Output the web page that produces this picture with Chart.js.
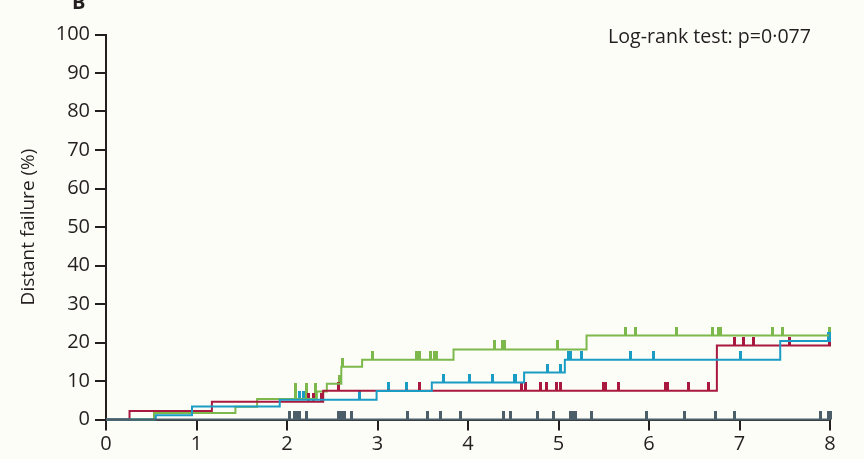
<!DOCTYPE html>
<html>
<head>
<meta charset="utf-8">
<script src="https://cdn.jsdelivr.net/npm/chart.js@4/dist/chart.umd.min.js"></script>
<style>
  html, body { margin: 0; background: #fdfdf7; }
  #wrap { width: 864px; height: 459px; }
</style>
</head>
<body>
<div id="wrap"><canvas id="kmChart"></canvas></div>
<script>
// step curves: time (years) and cumulative distant failure (%)
const redTimes = [0, 0.26, 1.17, 2.40, 6.75, 8.0];
const redValues = [0, 2.2, 4.6, 7.5, 19.2, 21.3];
const blueTimes = [0, 0.55, 0.95, 1.92, 2.99, 3.60, 4.62, 5.07, 7.45, 8.0];
const blueValues = [0, 1.1, 3.4, 5.1, 7.4, 9.6, 12.2, 15.5, 20.4, 22.0];
const greenTimes = [0, 0.53, 1.43, 1.67, 2.33, 2.44, 2.60, 2.83, 3.84, 5.31, 8.0];
const greenValues = [0, 1.7, 3.3, 5.3, 7.3, 9.3, 13.7, 15.5, 18.2, 21.8, 21.8];
const greyTimes = [0, 8.0];
const greyValues = [0, 0];

// censored observations
const redCensor = [2.24, 2.29, 2.38, 2.57, 3.32, 3.46, 4.59, 4.64, 4.80, 4.87, 4.98, 5.02,
  5.50, 5.52, 5.66, 6.18, 6.20, 6.44, 6.66, 6.94, 7.04, 7.16, 7.55, 7.99];
const blueCensor = [2.14, 2.18, 2.80, 3.12, 3.32, 3.73, 4.02, 4.27, 4.51, 4.53, 4.88, 5.02,
  5.11, 5.13, 5.25, 5.80, 6.05, 7.01, 7.98, 7.99];
const greenCensor = [2.58, 2.61, 2.94, 3.43, 3.46, 3.59, 3.63, 3.65, 4.29,
  4.38, 4.40, 4.99, 5.74, 5.85, 6.30, 6.70, 6.77, 6.79, 7.36, 7.48, 7.99];
// several censored at the same time: drawn as a taller stacked tick
const greenCensorStacked = [2.09, 2.22, 2.32];
const greyCensor = [2.03, 2.08, 2.11, 2.14, 2.21, 2.57, 2.60, 2.64, 2.71, 3.33, 3.55, 3.70,
  3.92, 4.39, 4.47, 4.77, 4.95, 5.13, 5.16, 5.19, 5.36, 5.97, 6.39, 6.73, 6.94, 7.90, 7.98, 8.0];

const xMin = 0, xMax = 8, xStep = 1;
const yMin = 0, yMax = 100, yStep = 10;

const RED = "#a8183f";
const BLUE = "#1a9cc4";
const GREEN = "#7cb84b";
const GREY = "#4c5f68";
const INK = "#231f20";
const FONT = "'Open Sans', sans-serif";

function toPoints(ts, vs) {
    return ts.map((t, i) => ({ x: t, y: vs[i] }));
}

function stepAt(ts, vs, t) {
    let v = vs[0];
    for (let i = 0; i < ts.length; i++) {
        if (ts[i] <= t) v = vs[i];
    }
    return v;
}

// small vertical tick used as point marker (drawn centred, so only top half is inked)
function tickMark(color, w, h) {
    const c = document.createElement("canvas");
    c.width = w;
    c.height = h * 2;
    const g = c.getContext("2d");
    g.fillStyle = color;
    g.fillRect(0, 0, w, h);
    return c;
}

function curve(ts, vs, color) {
    return {
        data: toPoints(ts, vs),
        showLine: true,
        stepped: "before",
        borderColor: color,
        borderWidth: 2,
        pointRadius: 0,
        clip: false,
    };
}

function censor(list, ts, vs, color, w, h = 9) {
    return {
        data: list.map((t) => ({ x: t, y: stepAt(ts, vs, t) })),
        showLine: false,
        pointStyle: tickMark(color, w, h),
        pointRadius: 5,
        clip: false,
    };
}

const decor = {
    id: "decor",
    beforeDraw(chart) {
        const ctx = chart.ctx;
        ctx.save();
        ctx.fillStyle = "#fdfdf7";
        ctx.fillRect(0, 0, chart.width, chart.height);
        ctx.restore();
    },
    afterDraw(chart) {
        const ctx = chart.ctx;
        ctx.save();
        ctx.fillStyle = INK;
        ctx.font = "19.6px " + FONT;
        ctx.textAlign = "right";
        ctx.textBaseline = "alphabetic";
        ctx.fillText("Log-rank test: p=0·077", 811, 43);
        ctx.font = "bold 20px " + FONT;
        ctx.textAlign = "left";
        ctx.fillText("B", 72, 9);
        ctx.restore();
    },
};

new Chart(document.getElementById("kmChart"), {
    type: "scatter",
    data: {
        datasets: [
            curve(greyTimes, greyValues, GREY),
            censor(greyCensor, greyTimes, greyValues, GREY, 3),
            curve(blueTimes, blueValues, BLUE),
            curve(redTimes, redValues, RED),
            curve(greenTimes, greenValues, GREEN),
            censor(blueCensor, blueTimes, blueValues, BLUE, 3),
            censor(redCensor, redTimes, redValues, RED, 3),
            censor(greenCensor, greenTimes, greenValues, GREEN, 3),
            censor(greenCensorStacked, greenTimes, greenValues, GREEN, 3, 16),
        ],
    },
    options: {
        responsive: true,
        maintainAspectRatio: false,
        animation: false,
        events: [],
        layout: { padding: { top: 34.5, right: 34, left: 0, bottom: 0 } },
        plugins: { legend: { display: false }, tooltip: { enabled: false } },
        scales: {
            x: {
                type: "linear",
                min: xMin,
                max: xMax,
                afterFit: (s) => { s.height = 39.5; },
                ticks: { stepSize: xStep, color: INK, padding: 2, font: { family: FONT, size: 20 } },
                grid: { drawOnChartArea: false, drawTicks: true, tickLength: 11, color: INK, lineWidth: 2 },
                border: { display: true, color: INK, width: 2 },
            },
            y: {
                min: yMin,
                max: yMax,
                afterFit: (s) => { s.width = 106; },
                ticks: { stepSize: yStep, color: INK, padding: 5, font: { family: FONT, size: 20 } },
                grid: { drawOnChartArea: false, drawTicks: true, tickLength: 11, color: INK, lineWidth: 2 },
                border: { display: true, color: INK, width: 2 },
                title: {
                    display: true,
                    text: "Distant failure (%)",
                    color: INK,
                    padding: { top: 17, bottom: 0 },
                    font: { family: FONT, size: 19 },
                },
            },
        },
    },
    plugins: [decor],
});
</script>
</body>
</html>
